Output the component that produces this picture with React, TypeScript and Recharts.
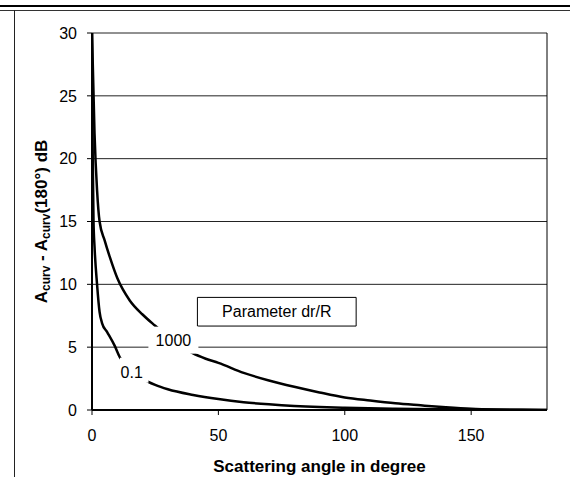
import React from 'react';
import { LineChart, Line, XAxis, YAxis, CartesianGrid, ReferenceArea, ReferenceLine } from 'recharts';

const FONT = "Arial, 'Liberation Sans', sans-serif";

// dr/R = 1000 curve
const angles1000 = [0, 1, 2, 3, 5, 7, 10, 15, 20, 25, 30, 35, 40, 45, 50, 60, 70, 80, 90, 100, 110, 120, 130, 140, 150, 160, 170, 180];
const values1000 = [30, 22, 17.5, 15, 13.5, 12.2, 10.5, 8.7, 7.6, 6.7, 5.85, 5.1, 4.5, 4.08, 3.75, 2.95, 2.35, 1.85, 1.4, 1.0, 0.75, 0.53, 0.37, 0.22, 0.1, 0.04, 0.01, 0];

// dr/R = 0.1 curve
const angles01 = [0, 0.3, 0.6, 1, 2, 3, 4, 6, 9, 11, 15, 20, 25, 30, 40, 50, 60, 70, 80, 90, 100, 120, 140, 160, 180];
const values01 = [30, 20, 15, 13, 10, 7.8, 6.9, 6.2, 5.1, 4.2, 3.3, 2.5, 2.0, 1.65, 1.2, 0.87, 0.62, 0.45, 0.32, 0.23, 0.17, 0.09, 0.05, 0.02, 0];

const xTicks = [0, 50, 100, 150];
const yTicks = [0, 5, 10, 15, 20, 25, 30];

// curve labels and their anchor positions (data units)
const curveLabels = ['1000', '0.1'];
const curveLabelAngles = [32.2, 15.7];
const curveLabelValues = [5.54, 2.99];

const boxText = 'Parameter dr/R';
const xTitle = 'Scattering angle in degree';

// white knock-out box around each curve label, in px relative to text centre
const labelBoxStyle = [
  { left: -25, right: 25, top: -13.7, bottom: 13.3 },
  { left: -11.7, right: 16.8, top: -14.7, bottom: 10.3 },
];

const data1000 = angles1000.map((x, i) => ({ x, y: values1000[i] }));
const data01 = angles01.map((x, i) => ({ x, y: values01[i] }));
const labelData = curveLabels.map((t, i) => ({ x: curveLabelAngles[i], y: curveLabelValues[i], t }));

const LabelDot = (props: any) => {
  const { cx, cy, index, payload } = props;
  if (cx == null || cy == null) return null;
  const b = labelBoxStyle[index] || labelBoxStyle[0];
  return (
    <g key={`lbl-${index}`}>
      <rect x={cx + b.left} y={cy + b.top} width={b.right - b.left} height={b.bottom - b.top} fill="#fff" stroke="none" />
      <text x={cx} y={cy} dy="0.35em" textAnchor="middle" fontFamily={FONT} fontSize={16} fill="#000">
        {payload.t}
      </text>
    </g>
  );
};

const YLabel = (props: any) => {
  const vb = props.viewBox || { x: 0, y: 33, width: 92, height: 377 };
  const cx = vb.x + 47;
  const cy = vb.y + vb.height / 2;
  return (
    <text
      x={cx}
      y={cy}
      transform={`rotate(-90, ${cx}, ${cy})`}
      textAnchor="middle"
      fontFamily={FONT}
      fontWeight="bold"
      fontSize={17}
      fill="#000"
    >
      <tspan>A</tspan>
      <tspan fontSize={12} dy={3}>curv</tspan>
      <tspan dy={-3}> - A</tspan>
      <tspan fontSize={12} dy={3}>curv</tspan>
      <tspan dy={-3}>(180°) dB</tspan>
    </text>
  );
};

const XLabel = (props: any) => {
  const vb = props.viewBox || { x: 92, y: 410, width: 455, height: 67 };
  return (
    <text
      x={vb.x + vb.width / 2}
      y={vb.y + 61.5}
      textAnchor="middle"
      fontFamily={FONT}
      fontWeight="bold"
      fontSize={17}
      fill="#000"
    >
      {xTitle}
    </text>
  );
};

export default function App() {
  return (
    <div style={{ position: 'absolute', left: 0, top: 0, width: 570, height: 477, background: '#fff' }}>
      <LineChart
        width={570}
        height={477}
        margin={{ top: 33, right: 23, bottom: 0, left: 0 }}
      >
        <CartesianGrid vertical={false} stroke="#222" strokeWidth={1} />
        <XAxis
          type="number"
          dataKey="x"
          domain={[0, 180]}
          ticks={xTicks}
          height={67}
          tickSize={5}
          tickMargin={15}
          axisLine={{ stroke: '#000', strokeWidth: 2 }}
          tickLine={{ stroke: '#000' }}
          tick={{ fill: '#000', fontSize: 16, fontFamily: FONT }}
          label={<XLabel />}
          allowDataOverflow
        />
        <YAxis
          type="number"
          domain={[0, 30]}
          ticks={yTicks}
          width={92}
          tickSize={5}
          tickMargin={10}
          axisLine={{ stroke: '#000', strokeWidth: 2 }}
          tickLine={{ stroke: '#000' }}
          tick={{ fill: '#000', fontSize: 16, fontFamily: FONT }}
          label={<YLabel />}
          allowDataOverflow
        />
        <ReferenceLine x={180} stroke="#000" strokeWidth={1} />
        <ReferenceArea
          x1={41.7}
          x2={104.5}
          y1={6.68}
          y2={8.96}
          fill="#fff"
          fillOpacity={1}
          stroke="#000"
          strokeWidth={1}
          label={{ value: boxText, position: 'center', fill: '#000', fontSize: 16, fontFamily: FONT }}
        />
        <Line
          data={data1000}
          dataKey="y"
          type="monotone"
          stroke="#000"
          strokeWidth={2.5}
          dot={false}
          activeDot={false}
          isAnimationActive={false}
        />
        <Line
          data={data01}
          dataKey="y"
          type="monotone"
          stroke="#000"
          strokeWidth={2.5}
          dot={false}
          activeDot={false}
          isAnimationActive={false}
        />
        <Line
          data={labelData}
          dataKey="y"
          stroke="none"
          strokeWidth={0}
          dot={<LabelDot />}
          activeDot={false}
          isAnimationActive={false}
        />
      </LineChart>
      <div style={{ position: 'absolute', left: 0, top: 5, width: 570, height: 2, background: '#000' }} />
      <div style={{ position: 'absolute', left: 0, top: 10, width: 570, height: 1, background: '#333' }} />
      <div style={{ position: 'absolute', left: 14, top: 10, width: 1, height: 467, background: '#222' }} />
    </div>
  );
}
